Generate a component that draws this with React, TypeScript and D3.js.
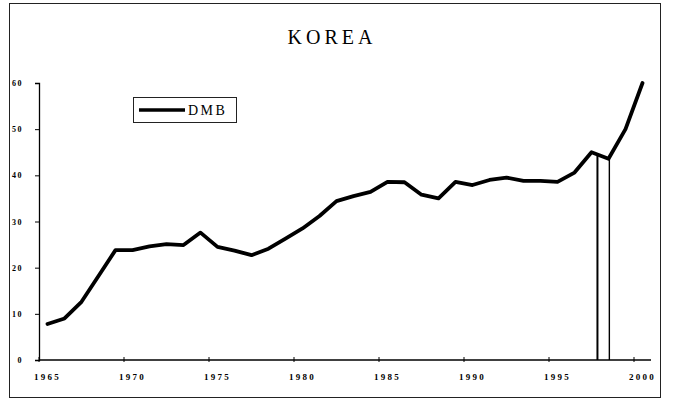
import React, { useRef, useEffect } from "react";
import * as d3 from "d3";

// DMB ratio for Korea
const years = d3.range(1965, 2001);
const dmb = [
  7.8, 9.0, 12.6, 18.2, 23.8, 23.8, 24.6, 25.1, 24.9, 27.6,
  24.5, 23.7, 22.7, 24.1, 26.3, 28.5, 31.2, 34.4, 35.5, 36.4,
  38.6, 38.5, 35.8, 35.0, 38.6, 37.9, 39.0, 39.5, 38.8, 38.8,
  38.6, 40.6, 45.0, 43.6, 50.0, 60.0,
];
const yTicks = [0, 10, 20, 30, 40, 50, 60];
const xLabels = [1965, 1970, 1975, 1980, 1985, 1990, 1995, 2000];
// the two vertical marker lines around the 1997-98 crisis (in year units)
const crisisMarks = [1997.85, 1998.55];
const seriesName = "DMB";
const title = "KOREA";

const W = 673;
const H = 400;
const serif = "'Liberation Serif', 'DejaVu Serif', serif";

const App = () => {
  const svgRef = useRef<SVGSVGElement>(null);
  var margin = { top: 83, right: 22, bottom: 40, left: 39 };
  const plotRight = W - margin.right;
  const plotBottom = H - margin.bottom;

  useEffect(() => {
    const svg = d3.select(svgRef.current);
    svg.selectAll("*").remove();

    // frame of the scanned page
    svg.append("rect")
      .attr("x", 9.5).attr("y", 3.5)
      .attr("width", 651).attr("height", 394)
      .attr("fill", "none").attr("stroke", "#222").attr("stroke-width", 1);

    svg.append("text")
      .attr("x", 332).attr("y", 44)
      .attr("text-anchor", "middle")
      .attr("font-family", serif).attr("font-size", 20)
      .attr("letter-spacing", 4)
      .text(title);

    // category axis: one slot per year, points in the middle
    const x = d3.scaleLinear().domain([1965, 2001]).range([margin.left, plotRight]);
    const y = d3.scaleLinear().domain([0, 60]).range([plotBottom, margin.top]);

    // y axis
    const yAxis = d3.axisLeft(y).tickValues(yTicks).tickSize(4).tickPadding(12)
      .tickFormat(d3.format("d"));
    const gy = svg.append("g")
      .attr("transform", `translate(${margin.left},0)`)
      .call(yAxis);
    gy.select(".domain").attr("stroke", "#000").attr("stroke-width", 1.3);
    gy.selectAll("text")
      .attr("font-family", serif).attr("font-size", 8).attr("font-weight", "bold")
      .attr("letter-spacing", 1.5);

    // x axis
    const gx = svg.append("g")
      .attr("transform", `translate(0,${plotBottom})`);
    gx.append("line")
      .attr("x1", margin.left).attr("x2", plotRight)
      .attr("stroke", "#000").attr("stroke-width", 1.3);
    gx.selectAll("line.tick")
      .data(xLabels)
      .join("line")
      .attr("class", "tick")
      .attr("x1", d => x(d)).attr("x2", d => x(d))
      .attr("y1", -3).attr("y2", 2)
      .attr("stroke", "#000");
    gx.selectAll("text")
      .data(xLabels)
      .join("text")
      .attr("x", d => x(d + 0.5))
      .attr("y", 20)
      .attr("text-anchor", "middle")
      .attr("font-family", serif).attr("font-size", 9).attr("font-weight", "bold")
      .attr("letter-spacing", 2.2)
      .text(d => d);

    const pts: [number, number][] = years.map((yr, i) => [yr + 0.5, dmb[i]]);
    const valueAt = (yr: number) => {
      const i = d3.bisector((p: [number, number]) => p[0]).right(pts, yr);
      const a = pts[i - 1], b = pts[i];
      const t = (yr - a[0]) / (b[0] - a[0]);
      return a[1] + t * (b[1] - a[1]);
    };

    // crisis marker lines
    svg.selectAll("line.crisis")
      .data(crisisMarks)
      .join("line")
      .attr("class", "crisis")
      .attr("x1", d => x(d)).attr("x2", d => x(d))
      .attr("y1", d => y(valueAt(d))).attr("y2", plotBottom)
      .attr("stroke", "#000")
      .attr("stroke-width", (d, i) => (i === 0 ? 2 : 1.4));

    const myLine = d3.line<[number, number]>()
      .x(d => x(d[0]))
      .y(d => y(d[1]));

    svg.append("path")
      .datum(pts)
      .attr("d", myLine)
      .attr("fill", "none")
      .attr("stroke", "#000")
      .attr("stroke-width", 3.8)
      .attr("stroke-linejoin", "round")
      .attr("stroke-linecap", "round");

    // legend
    const lg = svg.append("g");
    lg.append("rect")
      .attr("x", 133.5).attr("y", 97.5)
      .attr("width", 103).attr("height", 25)
      .attr("fill", "#fff").attr("stroke", "#222").attr("stroke-width", 1);
    lg.append("line")
      .attr("x1", 139).attr("x2", 185)
      .attr("y1", 110).attr("y2", 110)
      .attr("stroke", "#000").attr("stroke-width", 3.5);
    lg.append("text")
      .attr("x", 188).attr("y", 115)
      .attr("font-family", serif).attr("font-size", 14)
      .attr("letter-spacing", 2.5)
      .text(seriesName);
  }, []);

  return (
    <svg
      ref={svgRef}
      width={W}
      height={H}
      style={{ display: "block", position: "absolute", left: 0, top: 0, background: "#fff" }}
    />
  );
};

export default App;
